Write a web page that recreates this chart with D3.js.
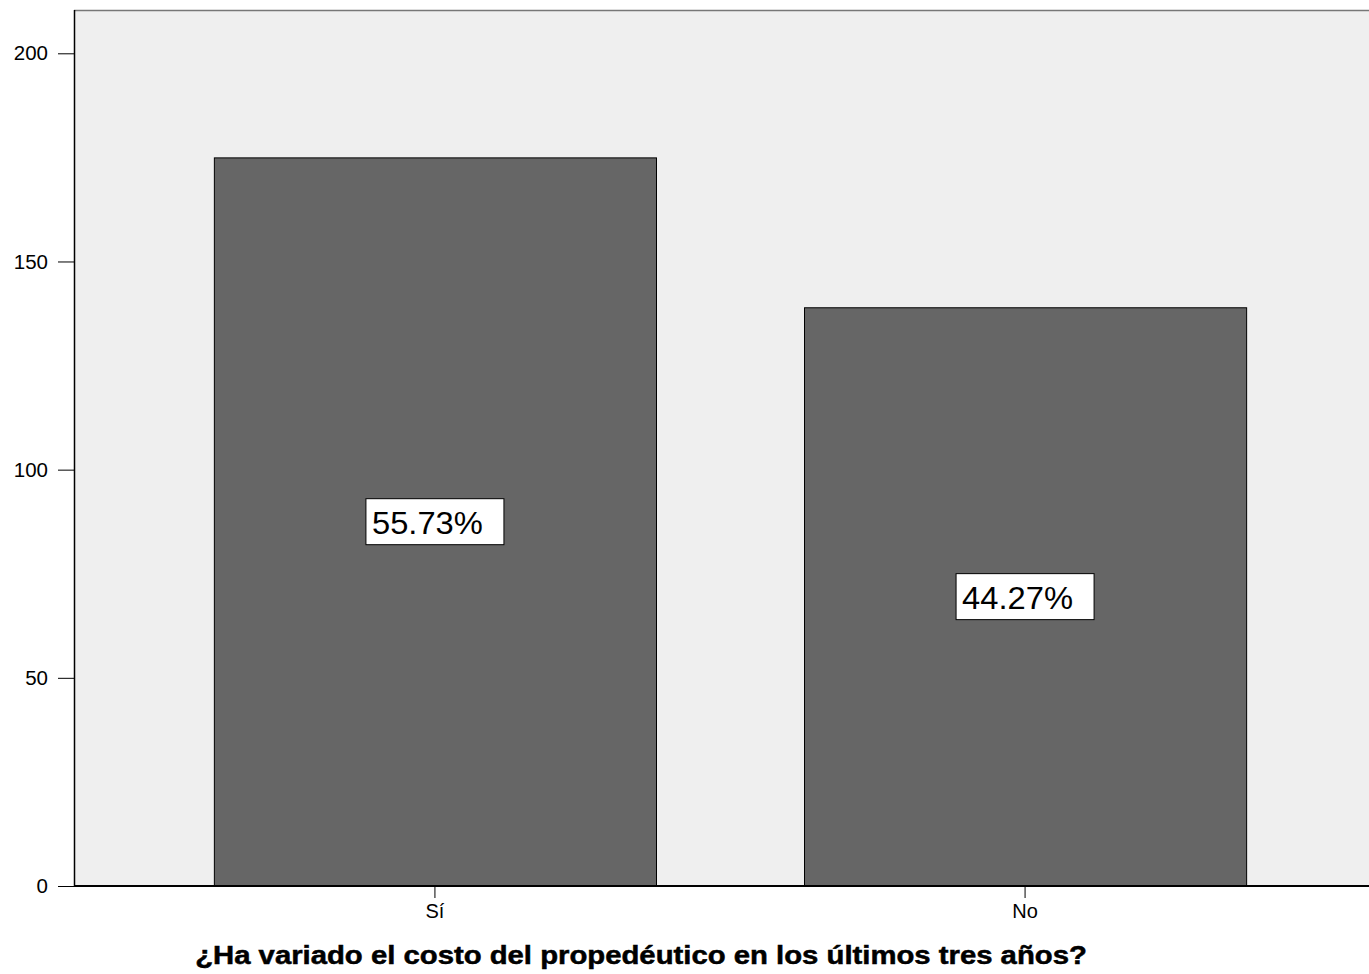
<!DOCTYPE html>
<html>
<head>
<meta charset="utf-8">
<script src="https://cdn.jsdelivr.net/npm/d3@7"></script>
<style>
  html, body { margin: 0; padding: 0; background: #fff; }
  svg { display: block; font-family: "Liberation Sans", Arial, sans-serif; }
</style>
</head>
<body>
<svg id="chart" width="1369" height="974"></svg>
<script>
// Answers to the survey question
const categories = ["Sí", "No"];
const counts = [175, 139];
const percentLabels = ["55.73%", "44.27%"];
const yTicks = [0, 50, 100, 150, 200];
const axisTitle = "¿Ha variado el costo del propedéutico en los últimos tres años?";

const svg = d3.select("#chart");
const plotLeft = 74, plotRight = 1386, plotTop = 10, plotBottom = 886;

const x = d3.scaleBand().domain(categories).range([plotLeft, plotRight])
  .paddingInner(0.2508).paddingOuter(0.237);
const y = d3.scaleLinear().domain([0, 210.4]).range([plotBottom, plotTop]);

// plot background
svg.append("rect").attr("x", plotLeft).attr("y", plotTop)
  .attr("width", plotRight - plotLeft).attr("height", plotBottom - plotTop)
  .attr("fill", "#efefef");
svg.append("line").attr("x1", plotLeft).attr("x2", plotRight)
  .attr("y1", plotTop + 0.5).attr("y2", plotTop + 0.5)
  .attr("stroke", "#777").attr("stroke-width", 1.5);

// bars
svg.append("g").selectAll("rect").data(categories).join("rect")
  .attr("x", d => x(d) + 0.5)
  .attr("y", (d, i) => y(counts[i]) + 0.5)
  .attr("width", x.bandwidth())
  .attr("height", (d, i) => y(0) - y(counts[i]))
  .attr("fill", "#666666").attr("stroke", "#000").attr("stroke-width", 1);

// squeeze/stretch a text node horizontally to a target width
function fitWidth(sel, target) {
  sel.each(function () {
    const w = this.getComputedTextLength();
    const k = target / w;
    const t = d3.select(this);
    const x0 = +t.attr("x") || 0;
    t.attr("transform", `translate(${x0},0) scale(${k},1) translate(${-x0},0)`);
  });
}

// percentage labels in boxes at mid-height of each bar
const lbl = svg.append("g").selectAll("g").data(categories).join("g")
  .attr("transform", (d, i) => `translate(${x(d) + x.bandwidth() / 2},${(y(counts[i]) + y(0)) / 2})`);
lbl.append("rect").attr("x", -69).attr("y", -23).attr("width", 138).attr("height", 46)
  .attr("fill", "#fff").attr("stroke", "#000").attr("stroke-width", 1);
lbl.append("text").attr("x", -63).attr("y", 12.5)
  .attr("font-size", 32).attr("fill", "#000")
  .text((d, i) => percentLabels[i])
  .call(fitWidth, 111);

// y axis
const yAxis = svg.append("g").attr("transform", `translate(${plotLeft},0)`)
  .call(d3.axisLeft(y).tickValues(yTicks).tickSize(16).tickPadding(10).tickFormat(d3.format("d")));
yAxis.select(".domain").remove();
yAxis.selectAll("line").attr("stroke", "#000");
yAxis.selectAll("text").attr("font-size", 20.5).attr("fill", "#000")
  .attr("font-family", "Liberation Sans, Arial, sans-serif");
svg.append("line").attr("x1", plotLeft + 0.5).attr("x2", plotLeft + 0.5)
  .attr("y1", plotTop).attr("y2", plotBottom).attr("stroke", "#000").attr("stroke-width", 1.5);

// x axis
const xAxis = svg.append("g").attr("transform", `translate(0,${plotBottom})`)
  .call(d3.axisBottom(x).tickSize(12).tickPadding(6));
xAxis.select(".domain").remove();
xAxis.selectAll("line").attr("stroke", "#000");
xAxis.selectAll("text").attr("font-size", 20).attr("fill", "#000")
  .attr("font-family", "Liberation Sans, Arial, sans-serif");
svg.append("line").attr("x1", plotLeft).attr("x2", plotRight)
  .attr("y1", plotBottom).attr("y2", plotBottom).attr("stroke", "#000").attr("stroke-width", 2);

// axis title
svg.append("text").attr("x", 641).attr("y", 964).attr("text-anchor", "middle")
  .attr("font-size", 25.5).attr("font-weight", "bold").attr("fill", "#000")
  .attr("stroke", "#000").attr("stroke-width", 0.5)
  .text(axisTitle)
  .call(fitWidth, 892);
</script>
</body>
</html>
